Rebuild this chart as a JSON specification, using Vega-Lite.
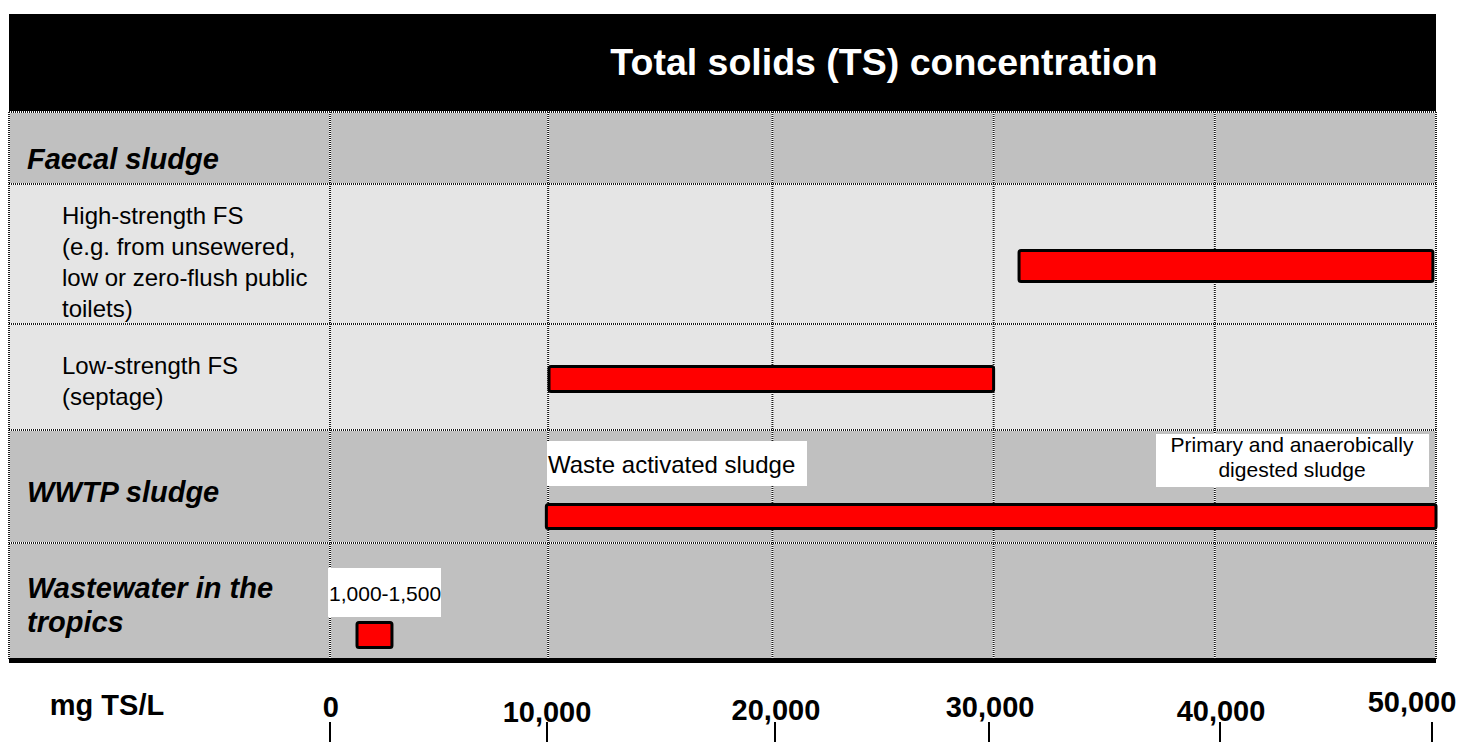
{
  "$schema": "https://vega.github.io/schema/vega-lite/v6.json",
  "width": 1461,
  "height": 742,
  "padding": 0,
  "autosize": {"type": "none"},
  "background": "white",
  "config": {"view": {"stroke": null}, "font": "Liberation Sans"},
  "datasets": {
    "cells": [
      {"part": "title band", "x1": -14513, "x2": 50000, "y1": 14, "y2": 111, "shade": "black"},
      {"part": "Faecal sludge", "x1": -14513, "x2": 50000, "y1": 112, "y2": 184, "shade": "dark"},
      {"part": "High-strength FS", "x1": -14513, "x2": 50000, "y1": 184, "y2": 324, "shade": "light"},
      {"part": "Low-strength FS", "x1": -14513, "x2": 50000, "y1": 324, "y2": 430, "shade": "light"},
      {"part": "WWTP sludge", "x1": -14513, "x2": 50000, "y1": 430, "y2": 543, "shade": "dark"},
      {"part": "Wastewater in the tropics", "x1": -14513, "x2": 50000, "y1": 543, "y2": 660, "shade": "dark"}
    ],
    "grid": [
      {"x1": -14513, "x2": 50000, "y1": 112, "y2": 112},
      {"x1": -14513, "x2": 50000, "y1": 184, "y2": 184},
      {"x1": -14513, "x2": 50000, "y1": 324, "y2": 324},
      {"x1": -14513, "x2": 50000, "y1": 430, "y2": 430},
      {"x1": -14513, "x2": 50000, "y1": 543, "y2": 543},
      {"x1": -14513, "x2": -14513, "y1": 112, "y2": 660},
      {"x1": 0, "x2": 0, "y1": 112, "y2": 660},
      {"x1": 9860, "x2": 9860, "y1": 112, "y2": 660},
      {"x1": 20000, "x2": 20000, "y1": 112, "y2": 660},
      {"x1": 30000, "x2": 30000, "y1": 112, "y2": 660},
      {"x1": 40000, "x2": 40000, "y1": 112, "y2": 660},
      {"x1": 50000, "x2": 50000, "y1": 112, "y2": 660}
    ],
    "baseline": [
      {"x1": -14513, "x2": 50000, "y": 660.5}
    ],
    "bars": [
      {"row": "High-strength FS", "start": 31150, "end": 49860, "y1": 250.5, "y2": 281.5},
      {"row": "Low-strength FS", "start": 9900, "end": 30000, "y1": 366.5, "y2": 391.5},
      {"row": "WWTP sludge", "start": 9780, "end": 50000, "y1": 504.5, "y2": 528.5},
      {"row": "Wastewater in the tropics", "start": 1220, "end": 2800, "y1": 622.5, "y2": 647.5}
    ],
    "noteboxes": [
      {"note": "Waste activated sludge", "x1": 9809, "x2": 21564, "y1": 441, "y2": 486},
      {"note": "Primary and anaerobically digested sludge", "x1": 37341, "x2": 49683, "y1": 434, "y2": 487},
      {"note": "1,000-1,500", "x1": -90, "x2": 5017, "y1": 568, "y2": 617}
    ],
    "ticks": [
      {"value": 0, "pos": 0, "y1": 722, "y2": 742},
      {"value": 10000, "pos": 9810, "y1": 722, "y2": 742},
      {"value": 20000, "pos": 20117, "y1": 722, "y2": 742},
      {"value": 30000, "pos": 29791, "y1": 722, "y2": 742},
      {"value": 40000, "pos": 40235, "y1": 722, "y2": 742},
      {"value": 50000, "pos": 49820, "y1": 722, "y2": 742}
    ],
    "texts": [
      {"kind": "title", "text": "Total solids (TS) concentration", "x": 25044, "y": 64},
      {"kind": "group", "text": "Faecal sludge", "x": -13699, "y": 160},
      {"kind": "group", "text": "WWTP sludge", "x": -13699, "y": 493},
      {"kind": "group", "text": ["Wastewater in the", "tropics"], "x": -13699, "y": 589},
      {"kind": "sub", "text": ["High-strength FS", "(e.g. from unsewered,", "low or zero-flush public", "toilets)"], "x": -12117, "y": 217},
      {"kind": "sub", "text": ["Low-strength FS", "(septage)"], "x": -12117, "y": 367},
      {"kind": "noteleft", "text": "Waste activated sludge", "x": 9854, "y": 466},
      {"kind": "noteleft1", "text": "1,000-1,500", "x": -45, "y": 595},
      {"kind": "notecenter", "text": ["Primary and anaerobically", "digested sludge"], "x": 43490, "y": 446},
      {"kind": "axis", "text": "mg TS/L", "x": -10083, "y": 706},
      {"kind": "axis", "text": "0", "x": 30, "y": 708},
      {"kind": "axis", "text": "10,000", "x": 9810, "y": 713},
      {"kind": "axis", "text": "20,000", "x": 20160, "y": 711},
      {"kind": "axis", "text": "30,000", "x": 29840, "y": 708},
      {"kind": "axis", "text": "40,000", "x": 40280, "y": 712},
      {"kind": "axis", "text": "50,000", "x": 48915, "y": 703}
    ]
  },
  "layer": [
    {
      "data": {"name": "cells"},
      "mark": {"type": "rect"},
      "encoding": {
        "x": {"field": "x1", "type": "quantitative", "scale": {"domain": [-14920, 51130], "nice": false, "zero": false}, "axis": null},
        "x2": {"field": "x2"},
        "y": {"field": "y1", "type": "quantitative", "scale": {"domain": [0, 742], "reverse": true, "nice": false, "zero": false}, "axis": null},
        "y2": {"field": "y2"},
        "fill": {"field": "shade", "type": "nominal", "scale": {"domain": ["black", "dark", "light"], "range": ["#000000", "#c0c0c0", "#e5e5e5"]}, "legend": null}
      }
    },
    {
      "data": {"name": "grid"},
      "mark": {"type": "rule", "color": "#ffffff", "strokeWidth": 2},
      "encoding": {
        "x": {"field": "x1", "type": "quantitative"},
        "x2": {"field": "x2"},
        "y": {"field": "y1", "type": "quantitative"},
        "y2": {"field": "y2"}
      }
    },
    {
      "data": {"name": "grid"},
      "mark": {"type": "rule", "color": "#1a1a1a", "strokeWidth": 2, "strokeDash": [1, 1]},
      "encoding": {
        "x": {"field": "x1", "type": "quantitative"},
        "x2": {"field": "x2"},
        "y": {"field": "y1", "type": "quantitative"},
        "y2": {"field": "y2"}
      }
    },
    {
      "data": {"name": "baseline"},
      "mark": {"type": "rule", "color": "#000000", "strokeWidth": 5},
      "encoding": {
        "x": {"field": "x1", "type": "quantitative"},
        "x2": {"field": "x2"},
        "y": {"field": "y", "type": "quantitative"}
      }
    },
    {
      "data": {"name": "noteboxes"},
      "mark": {"type": "rect", "fill": "#ffffff"},
      "encoding": {
        "x": {"field": "x1", "type": "quantitative"},
        "x2": {"field": "x2"},
        "y": {"field": "y1", "type": "quantitative"},
        "y2": {"field": "y2"}
      }
    },
    {
      "data": {"name": "bars"},
      "mark": {"type": "rect", "fill": "#ff0000", "stroke": "#000000", "strokeWidth": 3, "cornerRadius": 2},
      "encoding": {
        "x": {"field": "start", "type": "quantitative"},
        "x2": {"field": "end"},
        "y": {"field": "y1", "type": "quantitative"},
        "y2": {"field": "y2"}
      }
    },
    {
      "data": {"name": "ticks"},
      "mark": {"type": "rule", "color": "#000000", "strokeWidth": 2},
      "encoding": {
        "x": {"field": "pos", "type": "quantitative"},
        "y": {"field": "y1", "type": "quantitative"},
        "y2": {"field": "y2"}
      }
    },
    {
      "data": {"name": "texts"},
      "transform": [{"filter": "datum.kind === 'title'"}],
      "mark": {"type": "text", "font": "Liberation Sans", "fontWeight": "bold", "fontSize": 37.5, "color": "#ffffff", "align": "center", "baseline": "middle"},
      "encoding": {
        "x": {"field": "x", "type": "quantitative"},
        "y": {"field": "y", "type": "quantitative"},
        "text": {"field": "text"}
      }
    },
    {
      "data": {"name": "texts"},
      "transform": [{"filter": "datum.kind === 'group'"}],
      "mark": {"type": "text", "font": "Liberation Sans", "fontWeight": "bold", "fontStyle": "italic", "fontSize": 29, "lineHeight": 34, "color": "#000000", "align": "left", "baseline": "middle"},
      "encoding": {
        "x": {"field": "x", "type": "quantitative"},
        "y": {"field": "y", "type": "quantitative"},
        "text": {"field": "text"}
      }
    },
    {
      "data": {"name": "texts"},
      "transform": [{"filter": "datum.kind === 'sub'"}],
      "mark": {"type": "text", "font": "Liberation Sans", "fontSize": 24, "lineHeight": 31, "color": "#000000", "align": "left", "baseline": "middle"},
      "encoding": {
        "x": {"field": "x", "type": "quantitative"},
        "y": {"field": "y", "type": "quantitative"},
        "text": {"field": "text"}
      }
    },
    {
      "data": {"name": "texts"},
      "transform": [{"filter": "datum.kind === 'noteleft'"}],
      "mark": {"type": "text", "font": "Liberation Sans", "fontSize": 24, "color": "#000000", "align": "left", "baseline": "middle"},
      "encoding": {
        "x": {"field": "x", "type": "quantitative"},
        "y": {"field": "y", "type": "quantitative"},
        "text": {"field": "text"}
      }
    },
    {
      "data": {"name": "texts"},
      "transform": [{"filter": "datum.kind === 'noteleft1'"}],
      "mark": {"type": "text", "font": "Liberation Sans", "fontSize": 21, "color": "#000000", "align": "left", "baseline": "middle"},
      "encoding": {
        "x": {"field": "x", "type": "quantitative"},
        "y": {"field": "y", "type": "quantitative"},
        "text": {"field": "text"}
      }
    },
    {
      "data": {"name": "texts"},
      "transform": [{"filter": "datum.kind === 'notecenter'"}],
      "mark": {"type": "text", "font": "Liberation Sans", "fontSize": 21, "lineHeight": 25, "color": "#000000", "align": "center", "baseline": "middle"},
      "encoding": {
        "x": {"field": "x", "type": "quantitative"},
        "y": {"field": "y", "type": "quantitative"},
        "text": {"field": "text"}
      }
    },
    {
      "data": {"name": "texts"},
      "transform": [{"filter": "datum.kind === 'axis'"}],
      "mark": {"type": "text", "font": "Liberation Sans", "fontWeight": "bold", "fontSize": 29, "color": "#000000", "align": "center", "baseline": "middle"},
      "encoding": {
        "x": {"field": "x", "type": "quantitative"},
        "y": {"field": "y", "type": "quantitative"},
        "text": {"field": "text"}
      }
    }
  ]
}
